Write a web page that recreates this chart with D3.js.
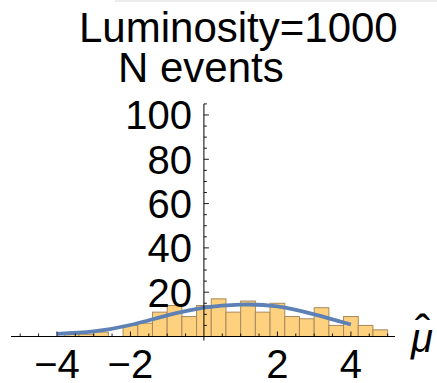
<!DOCTYPE html>
<html>
<head>
<meta charset="utf-8">
<script src="https://cdn.jsdelivr.net/npm/d3@7/dist/d3.min.js"></script>
<style>
  html, body { margin: 0; padding: 0; background: #fff; }
  svg { display: block; font-family: "Liberation Sans", Arial, sans-serif; }
</style>
</head>
<body>
<svg id="chart" width="437" height="383"></svg>
<script>
// Histogram of fitted signal strength, bin width 0.4, left bin edges
const binStarts = [-3.8, -3.4, -3.0, -2.6, -2.2, -1.8, -1.4, -1.0, -0.6, -0.2,
                   0.2, 0.6, 1.0, 1.4, 1.8, 2.2, 2.6, 3.0, 3.4, 3.8, 4.2, 4.6];
const binCounts = [1, 1, 2, 0, 5, 6, 11, 14, 9, 14,
                   17, 11, 16, 11, 15, 9, 8, 13, 5, 9, 5, 3];
const binWidth = 0.4;

// Fitted curve sampled at integer positions
const curveX = [-4, -3, -2, -1, 0, 1, 2, 3, 4];
const curveY = [1.2, 2.3, 5.2, 9.5, 13.0, 14.4, 13.6, 10.0, 5.4];

// Axis ticks and labels
const xMajorTicks = [-4, -2, 2, 4];
const xTickLabels = ["\u22124", "\u22122", "2", "4"];
const yMajorTicks = [20, 40, 60, 80, 100];
const yTickLabels = ["20", "40", "60", "80", "100"];

const titleText = "Luminosity=1000";
const yAxisText = "N events";
const xAxisSymbol = "\u03BC";
const xAxisAccent = "\u02C6";

const svg = d3.select("#chart");

const x = d3.scaleLinear().domain([-5.25, 5.2]).range([11, 395]);
const y = d3.scaleLinear().domain([0, 105]).range([336.5, 103.9]);

// faint frame shadow along the top
svg.append("rect")
  .attr("x", 115).attr("y", 0).attr("width", 322).attr("height", 2)
  .attr("fill", "#ececec");

// bars
const bins = binStarts.map((s, i) => ({ x0: s, x1: s + binWidth, n: binCounts[i] }));
svg.append("g").selectAll("rect")
  .data(bins.filter(d => d.n > 0))
  .join("rect")
  .attr("x", d => x(d.x0))
  .attr("y", d => y(d.n))
  .attr("width", d => x(d.x1) - x(d.x0))
  .attr("height", d => y(0) - y(d.n))
  .attr("fill", "#fed17f")
  .attr("stroke", "#a8895c")
  .attr("stroke-width", 1);

// fitted curve
const pts = curveX.map((v, i) => [v, curveY[i]]);
svg.append("path")
  .datum(pts)
  .attr("fill", "none")
  .attr("stroke", "#5e81b5")
  .attr("stroke-width", 3.8)
  .attr("stroke-linecap", "butt")
  .attr("d", d3.line().x(d => x(d[0])).y(d => y(d[1])).curve(d3.curveNatural));

// axes
const axisColor = "#000";
const ax = svg.append("g");
ax.append("line")
  .attr("x1", x(-5.25)).attr("x2", x(5.2))
  .attr("y1", y(0)).attr("y2", y(0))
  .attr("stroke", axisColor).attr("stroke-width", 1);
ax.append("line")
  .attr("x1", x(0)).attr("x2", x(0))
  .attr("y1", y(0) + 4).attr("y2", y(105))
  .attr("stroke", axisColor).attr("stroke-width", 1);

// x ticks (minor every 0.5, major at labelled values)
const xMinor = d3.range(-5, 5.01, 0.5).filter(v => Math.abs(v) > 1e-9);
ax.selectAll("line.xt")
  .data(xMinor)
  .join("line")
  .attr("class", "xt")
  .attr("x1", d => x(d)).attr("x2", d => x(d))
  .attr("y1", y(0))
  .attr("y2", d => y(0) - (xMajorTicks.includes(d) ? 5 : 3))
  .attr("stroke", axisColor).attr("stroke-width", 0.9);

// y ticks (minor every 5, major every 20)
const yMinor = d3.range(5, 105.01, 5);
ax.selectAll("line.yt")
  .data(yMinor)
  .join("line")
  .attr("class", "yt")
  .attr("y1", d => y(d)).attr("y2", d => y(d))
  .attr("x1", x(0))
  .attr("x2", d => x(0) + (yMajorTicks.includes(d) ? 5 : 3))
  .attr("stroke", axisColor).attr("stroke-width", 0.9);

// tick labels
svg.append("g").selectAll("text")
  .data(xMajorTicks)
  .join("text")
  .attr("x", d => x(d))
  .attr("y", 378)
  .attr("text-anchor", "middle")
  .attr("font-size", 40)
  .text((d, i) => xTickLabels[i]);

svg.append("g").selectAll("text")
  .data(yMajorTicks)
  .join("text")
  .attr("x", x(0) - 12)
  .attr("y", d => y(d))
  .attr("dy", "0.36em")
  .attr("text-anchor", "end")
  .attr("font-size", 40)
  .text((d, i) => yTickLabels[i]);

// titles
svg.append("text")
  .attr("x", 79).attr("y", 42)
  .attr("font-size", 42)
  .text(titleText);

svg.append("text")
  .attr("x", 118).attr("y", 82)
  .attr("font-size", 42)
  .text(yAxisText);

// axis symbol with a hat placed above it
const sym = svg.append("text")
  .attr("font-size", 40)
  .attr("font-style", "italic");
sym.append("tspan")
  .attr("x", 411).attr("y", 352)
  .text(xAxisSymbol);
sym.append("tspan")
  .attr("x", 415).attr("y", 352)
  .attr("font-style", "normal")
  .attr("font-size", 46)
  .attr("dy", -5)
  .text(xAxisAccent);
</script>
</body>
</html>
